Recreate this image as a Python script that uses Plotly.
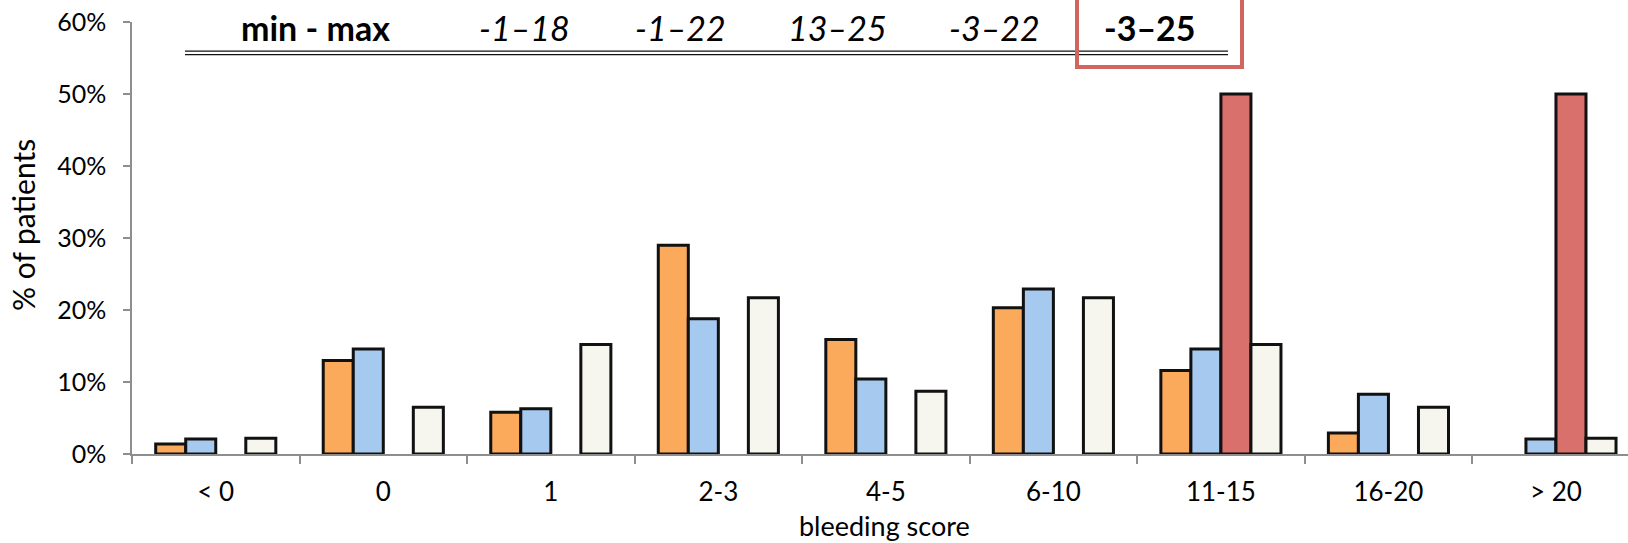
import plotly.graph_objects as go

# Bleeding score distribution, % of patients per group
categories = ["< 0", "0", "1", "2-3", "4-5", "6-10", "11-15", "16-20", "> 20"]
orange_pct = [1.4, 13.0, 5.8, 29.0, 15.9, 20.3, 11.6, 2.9, 0.0]
blue_pct = [2.1, 14.6, 6.3, 18.8, 10.4, 22.9, 14.6, 8.3, 2.1]
red_pct = [0, 0, 0, 0, 0, 0, 50.0, 0, 50.0]
cream_pct = [2.2, 6.5, 15.2, 21.7, 8.7, 21.7, 15.2, 6.5, 2.2]

header_labels = ["min - max", "-1–18", "-1–22", "13–25", "-3–22", "-3–25"]
header_styles = ["bold", "italic", "italic", "italic", "italic", "bold"]
y_ticks = [0, 10, 20, 30, 40, 50, 60]

W, H = 1628, 543
L, R, T, B = 132, 0, 22, 89
FONT = "Lato, Calibri, Carlito, sans-serif"

series = [
    (orange_pct, "#FBA95B"),
    (blue_pct, "#A6C9EF"),
    (red_pct, "#D9706B"),
    (cream_pct, "#F7F6EE"),
]

fig = go.Figure()
for vals, col in series:
    # empty cells are left blank rather than drawn as flat outlines
    fig.add_trace(go.Bar(
        x=categories,
        y=[v / 100 if v else None for v in vals],
        marker=dict(color=col, line=dict(color="#111111", width=3)),
        showlegend=False,
    ))

def px_x(px):
    return (px - L) / (W - L - R)

def px_y(py):
    return 1 - (py - T) / (H - T - B)

annotations = []
header_x = [315, 524, 680, 837, 994, 1150]
for lab, sty, hx in zip(header_labels, header_styles, header_x):
    txt = f"<b>{lab}</b>" if sty == "bold" else f"<i>{lab}</i>"
    annotations.append(dict(
        text=txt, x=px_x(hx), y=px_y(27), xref="paper", yref="paper",
        xanchor="center", yanchor="middle", showarrow=False,
        font=dict(family=FONT, size=34, color="#000000"),
    ))

annotations.append(dict(
    text="bleeding score", x=px_x(884), y=px_y(525), xref="paper", yref="paper",
    xanchor="center", yanchor="middle", showarrow=False,
    font=dict(family=FONT, size=27, color="#000000"),
))
annotations.append(dict(
    text="% of patients", x=px_x(23), y=px_y(225), xref="paper", yref="paper",
    xanchor="center", yanchor="middle", showarrow=False, textangle=-90,
    font=dict(family=FONT, size=30, color="#000000"),
))

shapes = []
# double rule under the header row
for yy in (51.2, 54.6):
    shapes.append(dict(
        type="line", xref="paper", yref="paper",
        x0=px_x(185), x1=px_x(1228), y0=px_y(yy), y1=px_y(yy),
        line=dict(color="#111111", width=1.3),
    ))
# highlight box around the last header cell
shapes.append(dict(
    type="rect", xref="paper", yref="paper",
    x0=px_x(1077), x1=px_x(1242), y0=px_y(67), y1=px_y(-10),
    line=dict(color="#D0665F", width=4),
))

fig.update_layout(
    width=W, height=H,
    margin=dict(l=L, r=R, t=T, b=B),
    paper_bgcolor="white", plot_bgcolor="white",
    barmode="group", bargap=0.283, bargroupgap=0,
    font=dict(family=FONT, size=26, color="#000000"),
    annotations=annotations,
    shapes=shapes,
    xaxis=dict(
        type="category", categoryorder="array", categoryarray=categories,
        range=[-0.5, 8.43],
        showline=True, linecolor="#8E8E8E", linewidth=1.5,
        ticks="outside", tickson="boundaries", ticklen=8, tickcolor="#8E8E8E",
        tickwidth=1.5, showgrid=False, ticklabelstandoff=14,
        tickfont=dict(family=FONT, size=26, color="#000000"),
    ),
    yaxis=dict(
        range=[0, 0.6], tickvals=[v / 100 for v in y_ticks],
        tickformat=".0%", showline=True, linecolor="#8E8E8E", linewidth=1.5,
        ticks="outside", ticklen=7, tickcolor="#8E8E8E", tickwidth=1.5,
        showgrid=False, zeroline=False, ticklabelstandoff=12,
        tickfont=dict(family=FONT, size=25, color="#000000"),
    ),
)

fig.write_html("out.html")
